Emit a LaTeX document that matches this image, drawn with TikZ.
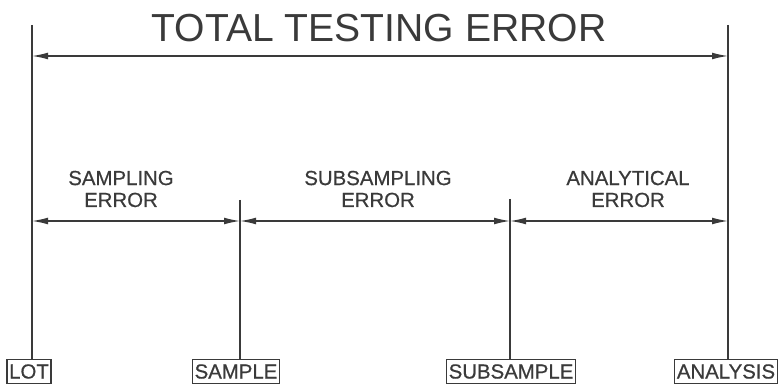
\documentclass[tikz,border=0pt]{standalone}
\usepackage{fontspec}
\setmainfont{Liberation Sans}
\newfontfamily\plotfont[FakeBold=0.6]{Liberation Sans}
\usetikzlibrary{arrows.meta}
\definecolor{ink}{HTML}{3A3A3A}
\begin{document}
\begin{tikzpicture}[x=0.025cm,y=-0.025cm,color=ink,line width=0.9pt,
  box/.style={draw,inner xsep=1.5pt,inner ysep=0pt,minimum height=0.6cm,font=\plotfont\fontsize{14.5}{15}\selectfont},
  lbl/.style={align=center,font=\plotfont\fontsize{14.5}{15.6}\selectfont},
  dim/.style={{Latex[length=4mm,width=1.7mm]}-{Latex[length=4mm,width=1.7mm]}}]
\useasboundingbox (0,0) rectangle (780,385);
% title
\node[font=\fontsize{27.8}{30}\selectfont] (title) at (379,28) {TOTAL TESTING ERROR};
% stages
\node[box] (lot) at (29,371.5) {LOT};
\node[box] (sample) at (236,371.5) {SAMPLE};
\node[box] (subsample) at (511,371.5) {SUBSAMPLE};
\node[box] (analysis) at (726,371.5) {ANALYSIS};
\coordinate (lottop) at (32,25);
\coordinate (sampletop) at (240,200);
\coordinate (subtop) at (510,199);
\coordinate (antop) at (728,25);
\draw (lottop) -- (lottop |- lot.north);
\draw (sampletop) -- (sampletop |- sample.north);
\draw (subtop) -- (subtop |- subsample.north);
\draw (antop) -- (antop |- analysis.north);
% dimension arrows
\coordinate (t1) at (32,56);
\coordinate (t2) at (728,56);
\draw[dim] (t1) -- (t2);
\coordinate (d1) at (32,221);
\coordinate (d2) at (240,221);
\coordinate (d3) at (510,221);
\coordinate (d4) at (728,221);
\draw[dim] (d1) -- (d2);
\draw[dim] (d2) -- (d3);
\draw[dim] (d3) -- (d4);
% error labels
\node[lbl] (samperr) at (121,189) {SAMPLING\\ERROR};
\node[lbl] (suberr) at (378,189) {SUBSAMPLING\\ERROR};
\node[lbl] (anerr) at (628,189) {ANALYTICAL\\ERROR};
\end{tikzpicture}
\end{document}
